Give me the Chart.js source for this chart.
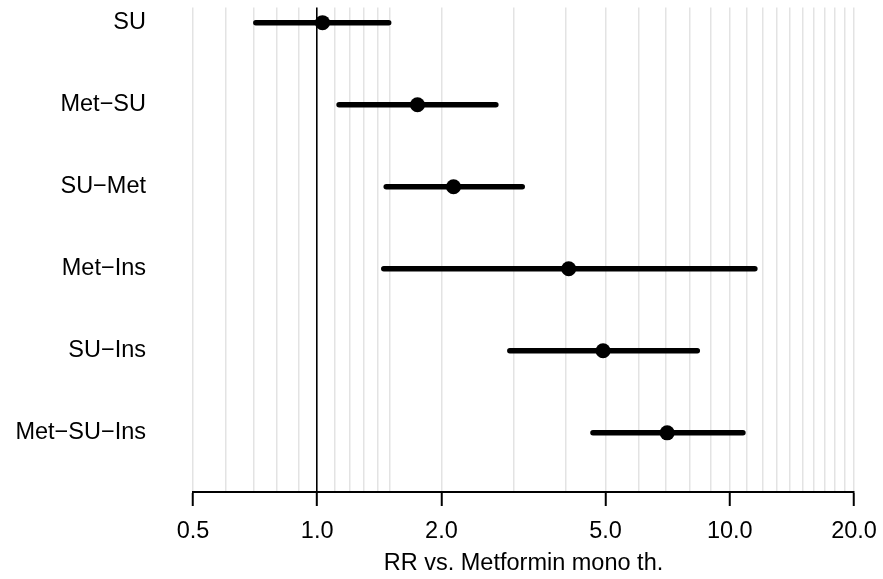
<!DOCTYPE html>
<html>
<head>
<meta charset="utf-8">
<title>RR vs. Metformin mono th.</title>
<script src="https://cdn.jsdelivr.net/npm/chart.js@4.4.1/dist/chart.umd.min.js"></script>
<style>
    html, body { margin: 0; padding: 0; background: #ffffff; }
    #wrap { width: 883px; height: 579px; }
</style>
</head>
<body>
<div id="wrap"><canvas id="rrChart" width="883" height="579"></canvas></div>
<script>
// ------------------------
// Data
// ------------------------
const categories = ['SU', 'Met−SU', 'SU−Met', 'Met−Ins', 'SU−Ins', 'Met−SU−Ins'];
const rr = [1.03, 1.75, 2.14, 4.07, 4.93, 7.05];
const lower = [0.71, 1.13, 1.47, 1.45, 2.93, 4.66];
const upper = [1.49, 2.71, 3.14, 11.5, 8.34, 10.76];

// labelled ticks on the x axis
const xTickValues = [0.5, 1, 2, 5, 10, 20];
const xTickLabels = ['0.5', '1.0', '2.0', '5.0', '10.0', '20.0'];

// light vertical guide lines
const gridValues = [0.5, 0.6, 0.7, 0.8, 0.9, 1, 1.1, 1.2, 1.3, 1.4, 1.5,
    2, 3, 4, 5, 6, 7, 8, 9, 10, 11, 12, 13, 14, 15, 16, 17, 18, 19, 20];

const FONT = 'Liberation Sans, Arial, Helvetica, sans-serif';
const FONT_SIZE = 23.5;

// ------------------------
// Datasets: one segment per interval + the point estimates
// ------------------------
const intervalSets = categories.map((name, i) => ({
    label: name,
    data: [{ x: lower[i], y: i }, { x: upper[i], y: i }],
    showLine: true,
    borderColor: '#000000',
    borderWidth: 5.5,
    borderCapStyle: 'round',
    pointRadius: 0,
    order: 1
}));

const pointSet = {
    label: 'RR',
    data: categories.map((name, i) => ({ x: rr[i], y: i })),
    pointRadius: 7.5,
    pointBackgroundColor: '#000000',
    pointBorderWidth: 0,
    order: 0
};

function isLabelled(v) {
    return xTickValues.some(t => Math.abs(t - v) < 1e-9);
}

new Chart(document.getElementById('rrChart'), {
    type: 'scatter',
    data: { datasets: [pointSet, ...intervalSets] },
    options: {
        responsive: false,
        animation: false,
        devicePixelRatio: 1,
        layout: { padding: { top: 0, right: 29, left: 0, bottom: 0 } },
        plugins: {
            legend: { display: false },
            tooltip: { enabled: false }
        },
        scales: {
            x: {
                type: 'logarithmic',
                position: 'bottom',
                min: 0.5,
                max: 20,
                afterBuildTicks: scale => {
                    scale.ticks = gridValues.map(v => ({ value: v }));
                },
                afterFit: scale => {
                    scale.height = 87;
                    // labels may overhang; keep the plot edges fixed
                    scale.paddingLeft = 0;
                    scale.paddingRight = 0;
                },
                border: { display: true, color: '#000000', width: 2 },
                grid: {
                    color: ctx => (ctx.tick && ctx.tick.value === 1 ? '#000000' : '#e3e3e3'),
                    lineWidth: ctx => (ctx.tick && ctx.tick.value === 1 ? 1.6 : 1.5),
                    tickColor: ctx => (ctx.tick && isLabelled(ctx.tick.value) ? '#000000' : 'rgba(0,0,0,0)'),
                    tickWidth: 2,
                    tickLength: 14,
                    drawTicks: true
                },
                ticks: {
                    autoSkip: false,
                    maxRotation: 0,
                    minRotation: 0,
                    padding: 11,
                    color: '#000000',
                    font: { family: FONT, size: FONT_SIZE },
                    callback: value => {
                        const k = xTickValues.findIndex(t => Math.abs(t - value) < 1e-9);
                        return k >= 0 ? xTickLabels[k] : '';
                    }
                },
                title: {
                    display: true,
                    text: 'RR vs. Metformin mono th.',
                    color: '#000000',
                    font: { family: FONT, size: FONT_SIZE },
                    padding: { top: 0, bottom: 1 }
                }
            },
            y: {
                type: 'linear',
                reverse: true,
                min: -0.185,
                max: 5.721,
                afterBuildTicks: scale => {
                    scale.ticks = categories.map((c, i) => ({ value: i }));
                },
                afterFit: scale => {
                    scale.width = 193;
                    // tick padding is only meant for the horizontal gap
                    scale.paddingTop = 0;
                    scale.paddingBottom = 0;
                },
                border: { display: false },
                grid: { display: false, drawTicks: false },
                ticks: {
                    padding: 47,
                    color: '#000000',
                    font: { family: FONT, size: FONT_SIZE },
                    callback: value => categories[value]
                }
            }
        }
    }
});
</script>
</body>
</html>
